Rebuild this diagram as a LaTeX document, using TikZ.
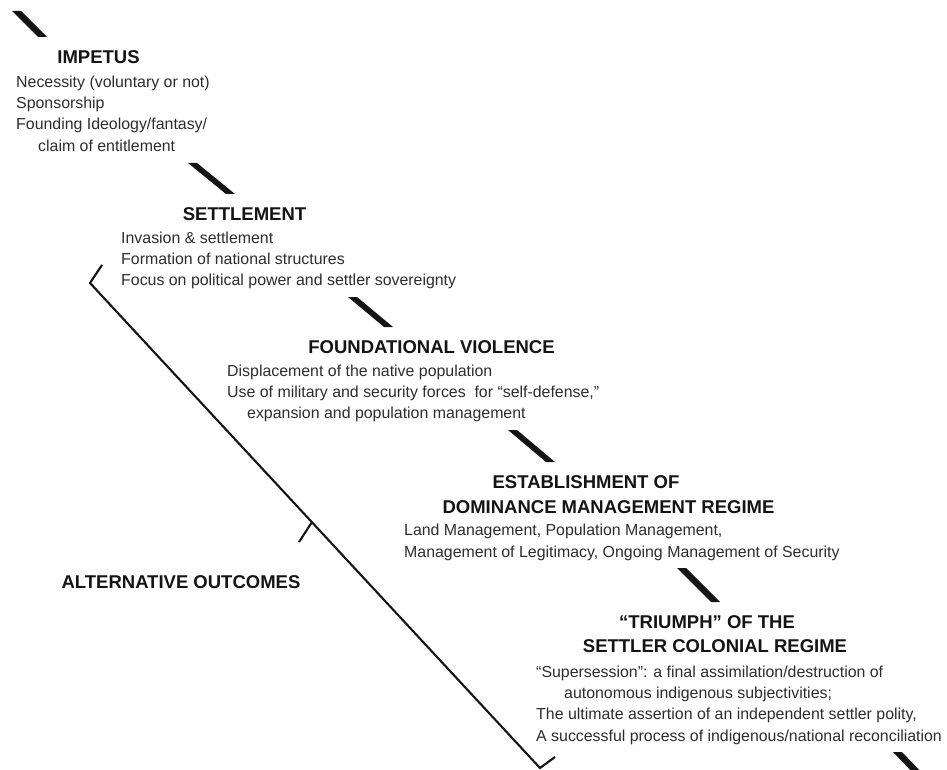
\documentclass[tikz,border=0pt]{standalone}
\usepackage{fontspec}
\setmainfont{Liberation Sans}
\usetikzlibrary{positioning}
\definecolor{stageink}{RGB}{20,20,20}
\definecolor{bodyink}{RGB}{45,45,45}

\begin{document}
\begin{tikzpicture}[x=1pt, y=-1pt,
    stagehead/.style={anchor=base, inner sep=0pt, text=stageink,
        font=\fontsize{18.5}{22}\selectfont\bfseries},
    stagebody/.style={anchor=north west, inner sep=0pt, align=left, text=bodyink,
        font=\fontsize{15.9}{21.3}\selectfont},
    bar/.style={fill=stageink, to path={-- ++(9,0) -- (\tikztotarget) -- ++(-9,0) -- cycle}},
    bracket/.style={draw=stageink, line width=2.1pt, line join=miter}
]
    \useasboundingbox (0,0) rectangle (947,770);
    \clip (0,0) rectangle (947,770);

    % stages
    \node[stagehead] (impetus) at (98.5,64) {IMPETUS};
    \node[stagebody] (impetusbody) at (16,75.5) {Necessity (voluntary or not)\\
        Sponsorship\\ Founding Ideology/fantasy/\\ \hspace*{22pt}claim of entitlement};

    \node[stagehead] (settlement) at (244.5,220) {SETTLEMENT};
    \node[stagebody] (settlementbody) at (121,231.5) {Invasion \& settlement\\
        Formation of national structures\\ Focus on political power and settler sovereignty};

    \node[stagehead] (violence) at (431.5,353) {FOUNDATIONAL VIOLENCE};
    \node[stagebody] (violencebody) at (227,364.5) {Displacement of the native population\\
        Use of military and security forces\ \ for “self-defense,”\\
        \hspace*{20pt}expansion and population management};

    \node[stagehead] (estabA) at (586,488) {ESTABLISHMENT OF};
    \node[stagehead] (estabB) at (608.5,513) {DOMINANCE MANAGEMENT REGIME};
    \node[stagebody] (estabbody) at (404,524) {Land Management, Population Management,\\
        Management of Legitimacy, Ongoing Management of Security};

    \node[stagehead] (triumphA) at (707,628) {“TRIUMPH” OF THE};
    \node[stagehead] (triumphB) at (715,652) {SETTLER COLONIAL REGIME};
    \node[stagebody] (triumphbody) at (536,665.5) {“Supersession”: a final assimilation/destruction of\\
        \hspace*{28pt}autonomous indigenous subjectivities;\\
        The ultimate assertion of an independent settler polity,\\
        A successful process of indigenous/national reconciliation};

    \node[stagehead] (outcomes) at (181,588) {ALTERNATIVE OUTCOMES};

    % stepping bars
    \foreach \xa/\ya/\xb/\yb in {12/11/47/37, 188/163/235/194, 348/297/393/327,
        508/430/555/462, 677/568/720/602, 893/752/925/776}
        \fill[bar] (\xa,\ya) to (\xb,\yb);

    % bracket
    \coordinate (bracetop) at (90,283);
    \coordinate (bracebot) at (540,768);
    \coordinate (bracemid) at (312,522);
    \draw[bracket] (102,265) -- (bracetop) -- (bracebot) -- ++(15,-11);
    \draw[bracket] (bracemid) -- ++(-13,20);
\end{tikzpicture}
\end{document}
